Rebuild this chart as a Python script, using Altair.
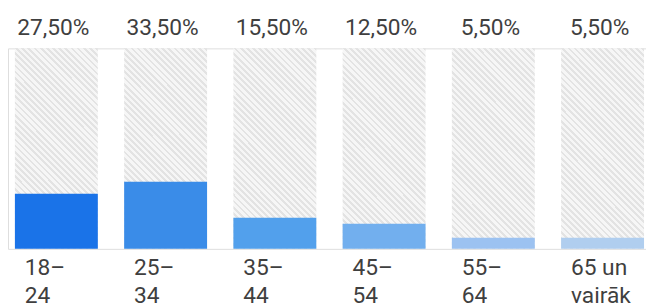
import altair as alt
import pandas as pd

categories = ["18–\n24", "25–\n34", "35–\n44", "45–\n54", "55–\n64", "65 un\nvairāk"]
values = [27.5, 33.5, 15.5, 12.5, 5.5, 5.5]
value_labels = ["27,50%", "33,50%", "15,50%", "12,50%", "5,50%", "5,50%"]
bar_colors = ["#1a73e8", "#3a8ce8", "#52a0ec", "#72afee", "#9cc2f1", "#b0ceef"]
full_scale = [100, 100, 100, 100, 100, 100]

df = pd.DataFrame({
    "cat": categories,
    "value": values,
    "label": value_labels,
    "color": bar_colors,
    "full": full_scale,
})

# diagonal hatch made as a striped gradient (style only)
n_stripes = 46
light, dark = "#f6f6f6", "#e3e3e3"
stops = []
for i in range(n_stripes):
    a = i / n_stripes
    b = (i + 0.55) / n_stripes
    c = (i + 1) / n_stripes
    stops += [
        alt.GradientStop(color=light, offset=a),
        alt.GradientStop(color=light, offset=b),
        alt.GradientStop(color=dark, offset=b),
        alt.GradientStop(color=dark, offset=c),
    ]
hatch = alt.LinearGradient(gradient="linear", stops=stops, x1=0, y1=1, x2=0.5, y2=-0.207)

xscale = alt.Scale(domain=categories, range=[7, 644], paddingInner=0.241,
                   paddingOuter=0, round=False)
x = alt.X("cat:N", scale=xscale, sort=categories,
          axis=alt.Axis(title=None, domain=False, ticks=False, labelAngle=0,
                        labelAlign="left", labelBaseline="top", labelOffset=-32,
                        labelPadding=8, labelFontSize=23, labelFont="Roboto",
                        labelColor="#3f3f3f", labelLineHeight=28,
                        labelExpr="split(datum.label, '\\n')"))
yscale = alt.Scale(domain=[0, 100], nice=False, zero=True)

base = alt.Chart(df)

bg = base.mark_bar(color=hatch).encode(
    x=x,
    y=alt.Y("full:Q", scale=yscale, axis=None),
)

bars = base.mark_bar().encode(
    x=x,
    y=alt.Y("value:Q", scale=yscale, axis=None),
    color=alt.Color("color:N", scale=None),
)

labels = base.mark_text(
    align="center", baseline="alphabetic", dy=-14, dx=-3,
    fontSize=23, font="Roboto", color="#3f3f3f",
).encode(
    x=x,
    y=alt.Y("full:Q", scale=yscale, axis=None),
    text="label:N",
)

chart = alt.layer(bg, bars, labels).properties(
    width=646, height=203,
    autosize=alt.AutoSizeParams(type="none"),
    padding={"left": 0, "top": 39, "right": 0, "bottom": 58},
).configure_view(stroke=None).configure(background="white")

chart.save("out.html", embed_options={"renderer": "svg", "actions": False})
